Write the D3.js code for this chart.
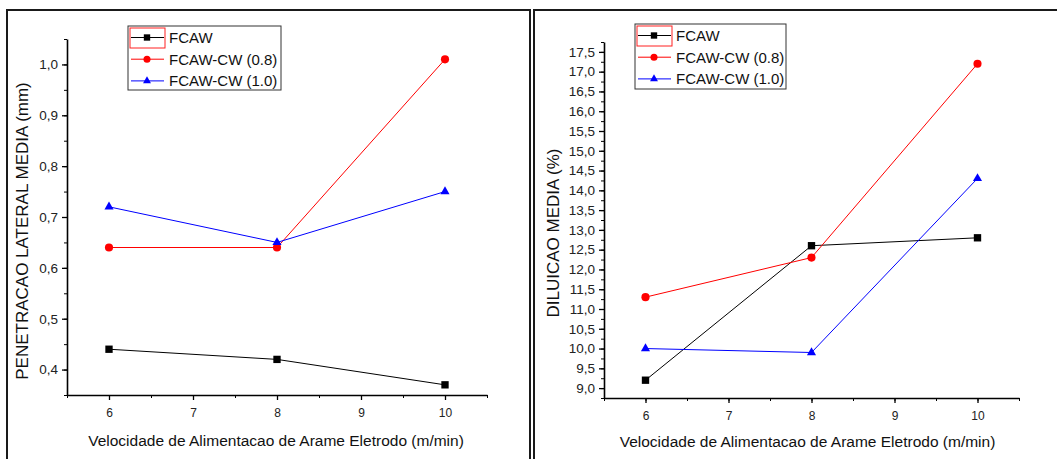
<!DOCTYPE html>
<html>
<head>
<meta charset="utf-8">
<script src="https://cdn.jsdelivr.net/npm/d3@7"></script>
<style>
  html, body { margin: 0; padding: 0; background: #fff; }
  svg { display: block; }
  text { font-family: Arial, "Liberation Sans", sans-serif; }
</style>
</head>
<body>
<svg id="chart" width="1057" height="459"></svg>
<script>
// Wire feed speed (m/min)
const speeds = [6, 8, 10];
const seriesNames = ["FCAW", "FCAW-CW (0.8)", "FCAW-CW (1.0)"];
const seriesColors = ["#000000", "#ff0000", "#0000ff"];

// Mean lateral penetration (mm)
const penetFCAW = [0.44, 0.42, 0.37];
const penetCW08 = [0.64, 0.64, 1.01];
const penetCW10 = [0.72, 0.65, 0.75];

// Mean dilution (%)
const dilFCAW = [9.2, 12.6, 12.8];
const dilCW08 = [11.3, 12.3, 17.2];
const dilCW10 = [10.0, 9.9, 14.3];

const xTicks = [6, 7, 8, 9, 10];
const penetTicks = [0.4, 0.5, 0.6, 0.7, 0.8, 0.9, 1.0];
const dilTicks = [9.0, 9.5, 10.0, 10.5, 11.0, 11.5, 12.0, 12.5, 13.0, 13.5, 14.0, 14.5, 15.0, 15.5, 16.0, 16.5, 17.0, 17.5];

const xLabel = "Velocidade de Alimentacao de Arame Eletrodo (m/min)";
const penetLabel = "PENETRACAO LATERAL MEDIA (mm)";
const dilLabel = "DILUICAO MEDIA (%)";

const svg = d3.select("#chart");
const commaFmt = v => d3.format(".1f")(v).replace(".", ",");

function panel(opts) {
  const g = svg.append("g");

  // panel frame
  g.append("rect")
    .attr("x", opts.frame[0]).attr("y", opts.frame[1])
    .attr("width", opts.frame[2]).attr("height", opts.frame[3])
    .attr("fill", "none").attr("stroke", "#1a1a1a").attr("stroke-width", 2);

  const x = d3.scaleLinear().domain([5.5, 10.5]).range([opts.left, opts.right]);
  const y = d3.scaleLinear().domain(opts.yDomain).range([opts.bottom, opts.top]);

  // minor ticks
  const xMinor = d3.range(5.5, 10.51, 0.5);
  const yMinor = d3.range(opts.yDomain[0], opts.yDomain[1] + 1e-9, opts.yMinorStep);

  const xAxis = g.append("g").attr("transform", `translate(0,${opts.bottom})`)
    .call(d3.axisBottom(x).tickValues(xMinor).tickSize(3).tickFormat(""));
  xAxis.select(".domain").remove();
  g.append("g").attr("transform", `translate(0,${opts.bottom})`)
    .call(d3.axisBottom(x).tickValues(xTicks).tickSize(5).tickSizeOuter(0).tickPadding(8).tickFormat(d3.format("d")))
    .call(a => a.select(".domain").attr("stroke-width", 1.6))
    .call(a => a.selectAll(".tick line").attr("stroke-width", 1.3))
    .call(a => a.selectAll("text").attr("font-size", 12).attr("fill", "#222"));

  const yAxisMinor = g.append("g").attr("transform", `translate(${opts.left},0)`)
    .call(d3.axisLeft(y).tickValues(yMinor).tickSize(3).tickFormat(""));
  yAxisMinor.select(".domain").remove();
  g.append("g").attr("transform", `translate(${opts.left},0)`)
    .call(d3.axisLeft(y).tickValues(opts.yTicks).tickSize(5).tickSizeOuter(0).tickPadding(4).tickFormat(commaFmt))
    .call(a => a.select(".domain").attr("stroke-width", 1.6))
    .call(a => a.selectAll(".tick line").attr("stroke-width", 1.3))
    .call(a => a.selectAll("text").attr("font-size", 13.5).attr("fill", "#222"));

  // axis titles
  g.append("text")
    .attr("x", (opts.left + opts.right) / 2 + opts.xLabelDx).attr("y", opts.xLabelY)
    .attr("text-anchor", "middle").attr("font-size", 15.5).attr("fill", "#111")
    .text(xLabel);
  g.append("text")
    .attr("transform", `translate(${opts.yLabelX},${opts.yLabelY}) rotate(-90)`)
    .attr("text-anchor", "middle").attr("font-size", opts.yLabelSize).attr("fill", "#111")
    .text(opts.yLabel);

  const symbols = [d3.symbolSquare, d3.symbolCircle, d3.symbolTriangle];
  const sizes = [54, 52, 36];

  opts.series.forEach((vals, i) => {
    const pts = speeds.map((s, j) => [s, vals[j]]);
    g.append("path")
      .datum(pts)
      .attr("fill", "none").attr("stroke", seriesColors[i]).attr("stroke-width", 1)
      .attr("d", d3.line().x(d => x(d[0])).y(d => y(d[1])));
    g.selectAll(null).data(pts).enter().append("path")
      .attr("transform", d => `translate(${x(d[0])},${y(d[1])})`)
      .attr("d", d3.symbol().type(symbols[i]).size(sizes[i]))
      .attr("fill", seriesColors[i]);
  });

  // legend
  const L = opts.legend;
  g.append("rect")
    .attr("x", L.x).attr("y", L.y).attr("width", L.w).attr("height", L.h)
    .attr("fill", "#fff").attr("stroke", "#333").attr("stroke-width", 1);
  seriesNames.forEach((name, i) => {
    const cy = L.y + 11.5 + i * 21.7;
    g.append("line")
      .attr("x1", L.x + 3).attr("x2", L.x + 36).attr("y1", cy).attr("y2", cy)
      .attr("stroke", seriesColors[i]).attr("stroke-width", 1);
    g.append("path")
      .attr("transform", `translate(${L.x + 19},${cy})`)
      .attr("d", d3.symbol().type(symbols[i]).size(sizes[i] * 0.75))
      .attr("fill", seriesColors[i]);
    g.append("text")
      .attr("x", L.x + 41).attr("y", cy + 5.5)
      .attr("font-size", 15).attr("fill", "#111")
      .text(name);
  });
  // highlight box around the first legend sample
  g.append("rect")
    .attr("x", L.x + 2).attr("y", L.y + 2).attr("width", 35).attr("height", 20)
    .attr("fill", "none").attr("stroke", "#ff2020").attr("stroke-width", 1);
}

panel({
  frame: [7, 10, 523, 470],
  left: 67, right: 487, top: 39, bottom: 395,
  yDomain: [0.35, 1.05], yMinorStep: 0.05, yTicks: penetTicks,
  series: [penetFCAW, penetCW08, penetCW10],
  yLabel: penetLabel, yLabelX: 28, yLabelY: 231, yLabelSize: 17,
  xLabelDx: -1, xLabelY: 446,
  legend: { x: 128, y: 26, w: 153, h: 64 }
});

panel({
  frame: [534, 10, 560, 470],
  left: 604, right: 1019, top: 42, bottom: 398,
  yDomain: [8.75, 17.75], yMinorStep: 0.25, yTicks: dilTicks,
  series: [dilFCAW, dilCW08, dilCW10],
  yLabel: dilLabel, yLabelX: 559, yLabelY: 233, yLabelSize: 17,
  xLabelDx: -4, xLabelY: 447,
  legend: { x: 635, y: 24, w: 151, h: 65 }
});
</script>
</body>
</html>
